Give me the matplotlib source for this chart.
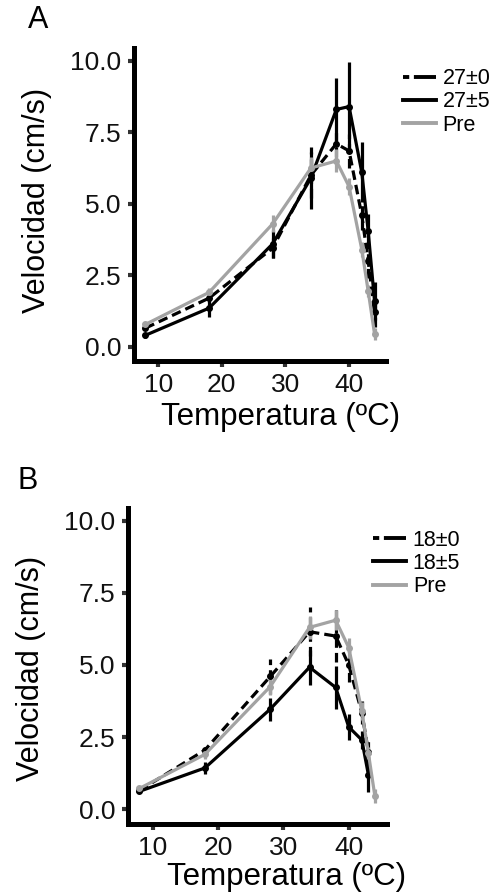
import numpy as np
import matplotlib
matplotlib.use("Agg")
import matplotlib.pyplot as plt
from matplotlib.lines import Line2D

plt.rcParams["font.family"] = ["Liberation Sans", "DejaVu Sans"]

# temperatures (ºC)
temps = [8, 18, 28, 34, 38, 40, 42, 43, 44]

# panel A
a_27_0 = [0.65, 1.7, 3.45, 6.0, 7.1, 6.85, 4.6, 3.0, 1.2]
a_27_0_err = [0.08, 0.15, 0.35, 0.8, 0.45, 0.6, 0.5, 0.6, 0.5]
a_27_5 = [0.4, 1.35, 3.6, 5.9, 8.3, 8.4, 6.1, 4.05, 1.6]
a_27_5_err = [0.08, 0.3, 0.5, 1.1, 1.1, 1.55, 1.05, 0.6, 0.65]
a_pre = [0.78, 1.9, 4.3, 6.25, 6.5, 5.6, 3.4, 1.95, 0.45]
a_pre_err = [0.08, 0.15, 0.3, 0.4, 0.4, 0.3, 0.25, 0.2, 0.2]

# panel B
b_18_0 = [0.65, 2.05, 4.6, 6.15, 6.0, 5.0, 3.35, 2.0, np.nan]
b_18_0_err = [0.08, 0.25, 0.6, 0.85, 0.9, 0.6, 0.4, 0.5, np.nan]
b_18_5 = [0.62, 1.43, 3.47, 4.92, 4.22, 2.85, 2.4, 1.2, np.nan]
b_18_5_err = [0.05, 0.2, 0.4, 0.6, 0.75, 0.45, 0.3, 0.6, np.nan]
b_pre = [0.72, 1.9, 4.25, 6.3, 6.55, 5.6, 3.4, 1.95, 0.45]
b_pre_err = [0.08, 0.15, 0.3, 0.4, 0.35, 0.35, 0.3, 0.2, 0.25]

yticks = [0.0, 2.5, 5.0, 7.5, 10.0]
xticks = [10, 20, 30, 40]

BLACK = "#000000"
GREY = "#a3a3a3"
DASH = (0, (3, 1.6))


def draw_series(ax, y, err, color, ls):
    cont = ax.errorbar(temps, y, yerr=err, color=color, lw=2.3, ls=ls,
                       marker="o", ms=4.0, elinewidth=2.3, capsize=0)
    for coll in cont[2]:
        coll.set_linestyle(ls)
    return cont


def style_axes(ax):
    ax.set_xlim(6.2, 45.8)
    ax.set_ylim(-0.5, 10.45)
    ax.set_xticks(xticks)
    ax.set_yticks(yticks)
    ax.set_yticklabels([f"{v:.1f}" for v in yticks])
    for side in ("top", "right"):
        ax.spines[side].set_visible(False)
    for side in ("left", "bottom"):
        ax.spines[side].set_linewidth(3.6)
        ax.spines[side].set_capstyle("projecting")
    ax.tick_params(direction="out", length=4, width=3, color="#333333",
                   labelsize=19, labelcolor="#111111", pad=5)


def add_legend(ax, labels, anchor):
    handles = [
        Line2D([], [], color=BLACK, lw=2.8, ls=(0, (1.6, 1.2, 6, 0.1))),
        Line2D([], [], color=BLACK, lw=2.8),
        Line2D([], [], color=GREY, lw=2.8),
    ]
    ax.legend(handles, labels, loc="upper left", bbox_to_anchor=anchor,
              frameon=False, fontsize=15.5, handlelength=1.55, handletextpad=0.3,
              labelspacing=0.1, borderpad=0, borderaxespad=0)


fig = plt.figure(figsize=(4.99, 8.92), dpi=100)

axA = fig.add_axes([0.2685, 0.5953, 0.505, 0.3509])
draw_series(axA, a_27_0, a_27_0_err, BLACK, DASH)
draw_series(axA, a_27_5, a_27_5_err, BLACK, "-")
draw_series(axA, a_pre, a_pre_err, GREY, "-")
style_axes(axA)
axA.set_xlabel("Temperatura (ºC)", fontsize=22.5, va="center")
axA.xaxis.set_label_coords(0.583, -0.18)
axA.set_ylabel("Velocidad (cm/s)", fontsize=22, va="center")
axA.yaxis.set_label_coords(-0.385, 0.514)
add_legend(axA, ["27±0", "27±5", "Pre"], (1.067, 0.935))

axB = fig.add_axes([0.2559, 0.0766, 0.519, 0.3543])
draw_series(axB, b_18_0, b_18_0_err, BLACK, DASH)
draw_series(axB, b_18_5, b_18_5_err, BLACK, "-")
draw_series(axB, b_pre, b_pre_err, GREY, "-")
style_axes(axB)
axB.set_xlabel("Temperatura (ºC)", fontsize=22.5, va="center")
axB.xaxis.set_label_coords(0.615, -0.168)
axB.set_ylabel("Velocidad (cm/s)", fontsize=22, va="center")
axB.yaxis.set_label_coords(-0.373, 0.49)
add_legend(axB, ["18±0", "18±5", "Pre"], (0.947, 0.93))

fig.text(28 / 499, 1 - 28 / 892, "A", fontsize=22, va="baseline", ha="left")
fig.text(17 / 499, 1 - 489 / 892, "B", fontsize=22, va="baseline", ha="left")

fig.savefig("out.png", dpi=100)
